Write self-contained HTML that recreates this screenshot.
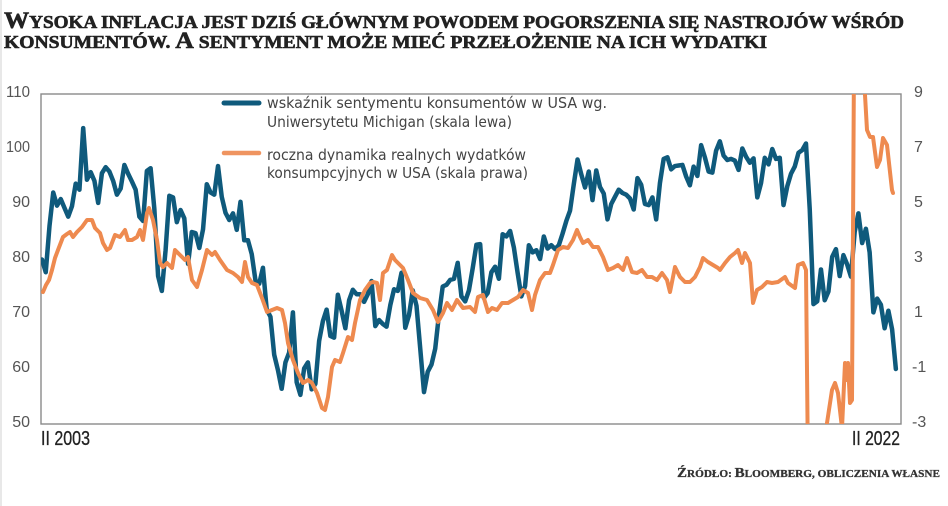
<!DOCTYPE html>
<html>
<head>
<meta charset="utf-8">
<style>
  html,body{margin:0;padding:0;background:#fff;}
  svg{display:block;}
</style>
</head>
<body>
<svg width="948" height="506" viewBox="0 0 948 506" xmlns="http://www.w3.org/2000/svg">
  <rect x="0" y="0" width="948" height="506" fill="#ffffff"/>
  <rect x="0" y="0" width="2" height="506" fill="#e8e8e8"/>

  <!-- Title -->
  <text x="4" y="28" textLength="900" lengthAdjust="spacingAndGlyphs" font-family="'Liberation Serif', 'Noto Serif CJK SC', serif" font-weight="bold" fill="#222" stroke="#222" stroke-width="0.6"><tspan font-size="23">W</tspan><tspan font-size="17.5">YSOKA INFLACJA JEST DZIŚ GŁÓWNYM POWODEM POGORSZENIA SIĘ NASTROJÓW WŚRÓD</tspan></text>
  <text x="4" y="48" textLength="763" lengthAdjust="spacingAndGlyphs" font-family="'Liberation Serif', 'Noto Serif CJK SC', serif" font-weight="bold" fill="#222" stroke="#222" stroke-width="0.6"><tspan font-size="17.5">KONSUMENTÓW. </tspan><tspan font-size="23">A</tspan><tspan font-size="17.5"> SENTYMENT MOŻE MIEĆ PRZEŁOŻENIE NA ICH WYDATKI</tspan></text>

  <!-- Left axis labels -->
  <g font-family="'Liberation Sans', sans-serif" font-size="16" fill="#555" text-anchor="end">
    <text x="30" y="97" textLength="24" lengthAdjust="spacingAndGlyphs">110</text>
    <text x="30" y="152" textLength="24" lengthAdjust="spacingAndGlyphs">100</text>
    <text x="30" y="207">90</text>
    <text x="30" y="262">80</text>
    <text x="30" y="317">70</text>
    <text x="30" y="372">60</text>
    <text x="30" y="427">50</text>
  </g>
  <!-- Right axis labels -->
  <g font-family="'Liberation Sans', sans-serif" font-size="16" fill="#555">
    <text x="914" y="97">9</text>
    <text x="914" y="152">7</text>
    <text x="914" y="207">5</text>
    <text x="914" y="262">3</text>
    <text x="914" y="317">1</text>
    <text x="912" y="372">-1</text>
    <text x="912" y="427">-3</text>
  </g>

  <!-- Plot frame -->
  <rect x="41" y="94" width="860" height="330" fill="none" stroke="#8a8a8a" stroke-width="1.4"/>

  <defs>
    <clipPath id="plot">
      <rect x="41" y="94" width="860" height="330"/>
    </clipPath>
  </defs>

  <g clip-path="url(#plot)">
    <!-- Blue: Michigan sentiment (left scale) -->
    <polyline transform="matrix(3.745 0 0 -5.5 42 699)" vector-effect="non-scaling-stroke" fill="none" stroke="#0f5a7c" stroke-width="4.5" stroke-linejoin="round" stroke-linecap="round"
      points="0,79.9 1,77.6 2,86.0 3,92.1 4,89.7 5,90.9 6,89.3 7,87.7 8,89.6 9,93.7 10,92.6 11,103.8 12,94.4 13,95.8 14,94.2 15,90.2 16,95.6 17,96.7 18,95.9 19,94.2 20,91.7 21,92.8 22,97.1 23,95.5 24,94.1 25,92.6 26,87.7 27,86.9 28,96.0 29,96.5 30,89.1 31,76.9 32,74.2 33,81.6 34,91.5 35,91.2 36,86.7 37,88.9 38,87.4 39,79.1 40,84.9 41,84.7 42,82.0 43,85.4 44,93.6 45,92.1 46,91.7 47,96.9 48,91.3 49,88.4 50,87.1 51,88.3 52,85.3 53,90.4 54,83.4 55,83.4 56,80.9 57,76.1 58,75.5 59,78.4 60,70.8 61,69.5 62,62.6 63,59.8 64,56.4 65,61.2 66,63.0 67,70.3 68,57.6 69,55.3 70,60.1 71,61.2 72,56.3 73,57.3 74,65.1 75,68.7 76,70.8 77,66.0 78,65.7 79,73.5 80,70.6 81,67.4 82,72.5 83,74.4 84,73.6 85,73.6 86,72.2 87,73.6 88,76.0 89,67.8 90,68.9 91,68.2 92,67.7 93,71.6 94,74.5 95,74.2 96,77.5 97,67.5 98,69.8 99,74.3 100,71.5 101,63.7 102,55.8 103,59.5 104,60.8 105,63.7 106,69.9 107,75.0 108,75.3 109,76.2 110,76.4 111,79.3 112,73.2 113,72.3 114,74.3 115,78.3 116,82.6 117,82.7 118,72.9 119,73.8 120,77.6 121,78.6 122,76.4 123,84.5 124,84.1 125,85.1 126,82.1 127,77.5 128,73.2 129,75.1 130,82.5 131,81.2 132,81.6 133,80.0 134,84.1 135,81.9 136,82.5 137,81.8 138,82.5 139,84.6 140,86.9 141,88.8 142,93.6 143,98.1 144,95.4 145,93.0 146,95.9 147,90.7 148,96.1 149,93.1 150,91.9 151,87.2 152,90.0 153,91.3 154,92.6 155,92.0 156,91.7 157,91.0 158,89.0 159,94.7 160,93.5 161,90.0 162,89.8 163,91.2 164,87.2 165,93.8 166,98.2 167,98.5 168,96.3 169,96.9 170,97.0 171,97.1 172,95.0 173,93.4 174,96.8 175,95.1 176,100.7 177,98.5 178,95.9 179,95.7 180,99.7 181,101.4 182,98.8 183,98.0 184,98.2 185,97.9 186,96.2 187,100.1 188,98.6 189,97.5 190,98.3 191,91.2 192,93.8 193,98.4 194,97.2 195,100.0 196,98.2 197,98.4 198,89.8 199,93.2 200,95.5 201,96.8 202,99.3 203,99.8 204,101.0 205,89.1 206,71.8 207,72.3 208,78.1 209,72.5 210,74.1 211,80.4 212,81.8 213,76.9 214,80.7 215,79.0 216,76.8 217,84.9 218,88.3 219,82.9 220,85.5 221,81.2 222,70.3 223,72.8 224,71.7 225,67.4 226,70.6 227,67.2 228,60.0"/>

    <!-- Orange: real PCE y/y (right scale) -->
    <polyline fill="none" stroke="#ee8a4f" stroke-width="4" stroke-linejoin="round" stroke-linecap="round"
      points="43,292 46,285 49,280 52,270 55,258 58,250 63,237 67,234 70,232 73,237 77,232 82,227 87,220 92,220 95,228 100,233 103,243 107,250 110,248 115,235 120,237 125,230 128,240 132,240 137,237 140,230 143,240 147,213 149,208 153,220 157,240 160,263 163,267 167,263 172,268 175,250 180,255 185,260 188,257 192,280 197,287 202,270 207,250 212,255 215,252 220,260 227,270 233,273 238,277 242,282 245,262 248,277 252,283 257,285 262,298 267,312 272,310 277,308 282,310 285,323 288,343 293,360 298,373 303,383 308,380 312,383 317,393 322,408 325,410 328,397 332,367 335,360 340,362 343,353 348,337 352,340 355,323 360,300 365,290 370,283 373,282 377,283 380,300 383,273 387,270 392,255 395,260 398,263 403,268 408,280 413,293 420,298 427,300 433,310 438,322 443,313 447,303 452,310 457,300 463,308 470,307 475,312 478,297 483,295 488,312 492,308 497,310 502,303 508,303 513,300 518,297 523,290 528,293 532,310 535,295 540,280 545,273 550,273 553,265 558,250 563,247 568,248 573,240 577,230 580,237 583,243 588,240 593,247 598,247 603,257 608,270 613,268 618,265 623,270 627,258 632,272 637,273 642,270 647,277 652,277 657,280 662,273 667,280 670,292 675,267 680,277 685,282 690,282 695,277 700,267 703,258 708,262 713,265 718,268 720,270 725,263 730,257 735,253 738,250 742,263 745,253 750,263 753,303 757,290 762,287 767,282 772,283 778,282 785,277 788,283 795,288 798,265 803,263 806,270 808,470 825,470 827,423 832,390 835,383 838,393 842,428 845,363 847,380 848,363 850,403 852,400 854,60 863,60 867,130 870,137 873,137 877,167 880,160 883,138 887,145 892,190 893,193"/>
  </g>

  <!-- Legend -->
  <line x1="224" y1="103" x2="259" y2="103" stroke="#0f5a7c" stroke-width="5" stroke-linecap="round"/>
  <line x1="224" y1="153" x2="259" y2="153" stroke="#ef9460" stroke-width="4.5" stroke-linecap="round"/>
  <g font-family="'DejaVu Sans Condensed', 'Liberation Sans', sans-serif" font-size="15.5" fill="#444">
    <text x="267" y="108" textLength="340" lengthAdjust="spacingAndGlyphs">wskaźnik sentymentu konsumentów w USA wg.</text>
    <text x="267" y="127" textLength="245" lengthAdjust="spacingAndGlyphs">Uniwersytetu Michigan (skala lewa)</text>
    <text x="267" y="160" textLength="259" lengthAdjust="spacingAndGlyphs">roczna dynamika realnych wydatków</text>
    <text x="267" y="178" textLength="261" lengthAdjust="spacingAndGlyphs">konsumpcyjnych w USA (skala prawa)</text>
  </g>

  <!-- X labels -->
  <g font-family="'Liberation Sans', sans-serif" font-size="20" fill="#222" stroke="#222" stroke-width="0.3">
    <text x="41" y="445" textLength="49" lengthAdjust="spacingAndGlyphs">II 2003</text>
    <text x="852" y="445" textLength="48" lengthAdjust="spacingAndGlyphs">II 2022</text>
  </g>

  <!-- Source -->
  <text x="677" y="477" textLength="263" lengthAdjust="spacingAndGlyphs" font-family="'Liberation Serif', serif" font-weight="bold" fill="#333" stroke="#333" stroke-width="0.3"><tspan font-size="14">Ź</tspan><tspan font-size="10.5">RÓDŁO: </tspan><tspan font-size="14">B</tspan><tspan font-size="10.5">LOOMBERG, OBLICZENIA WŁASNE</tspan></text>
</svg>
</body>
</html>
